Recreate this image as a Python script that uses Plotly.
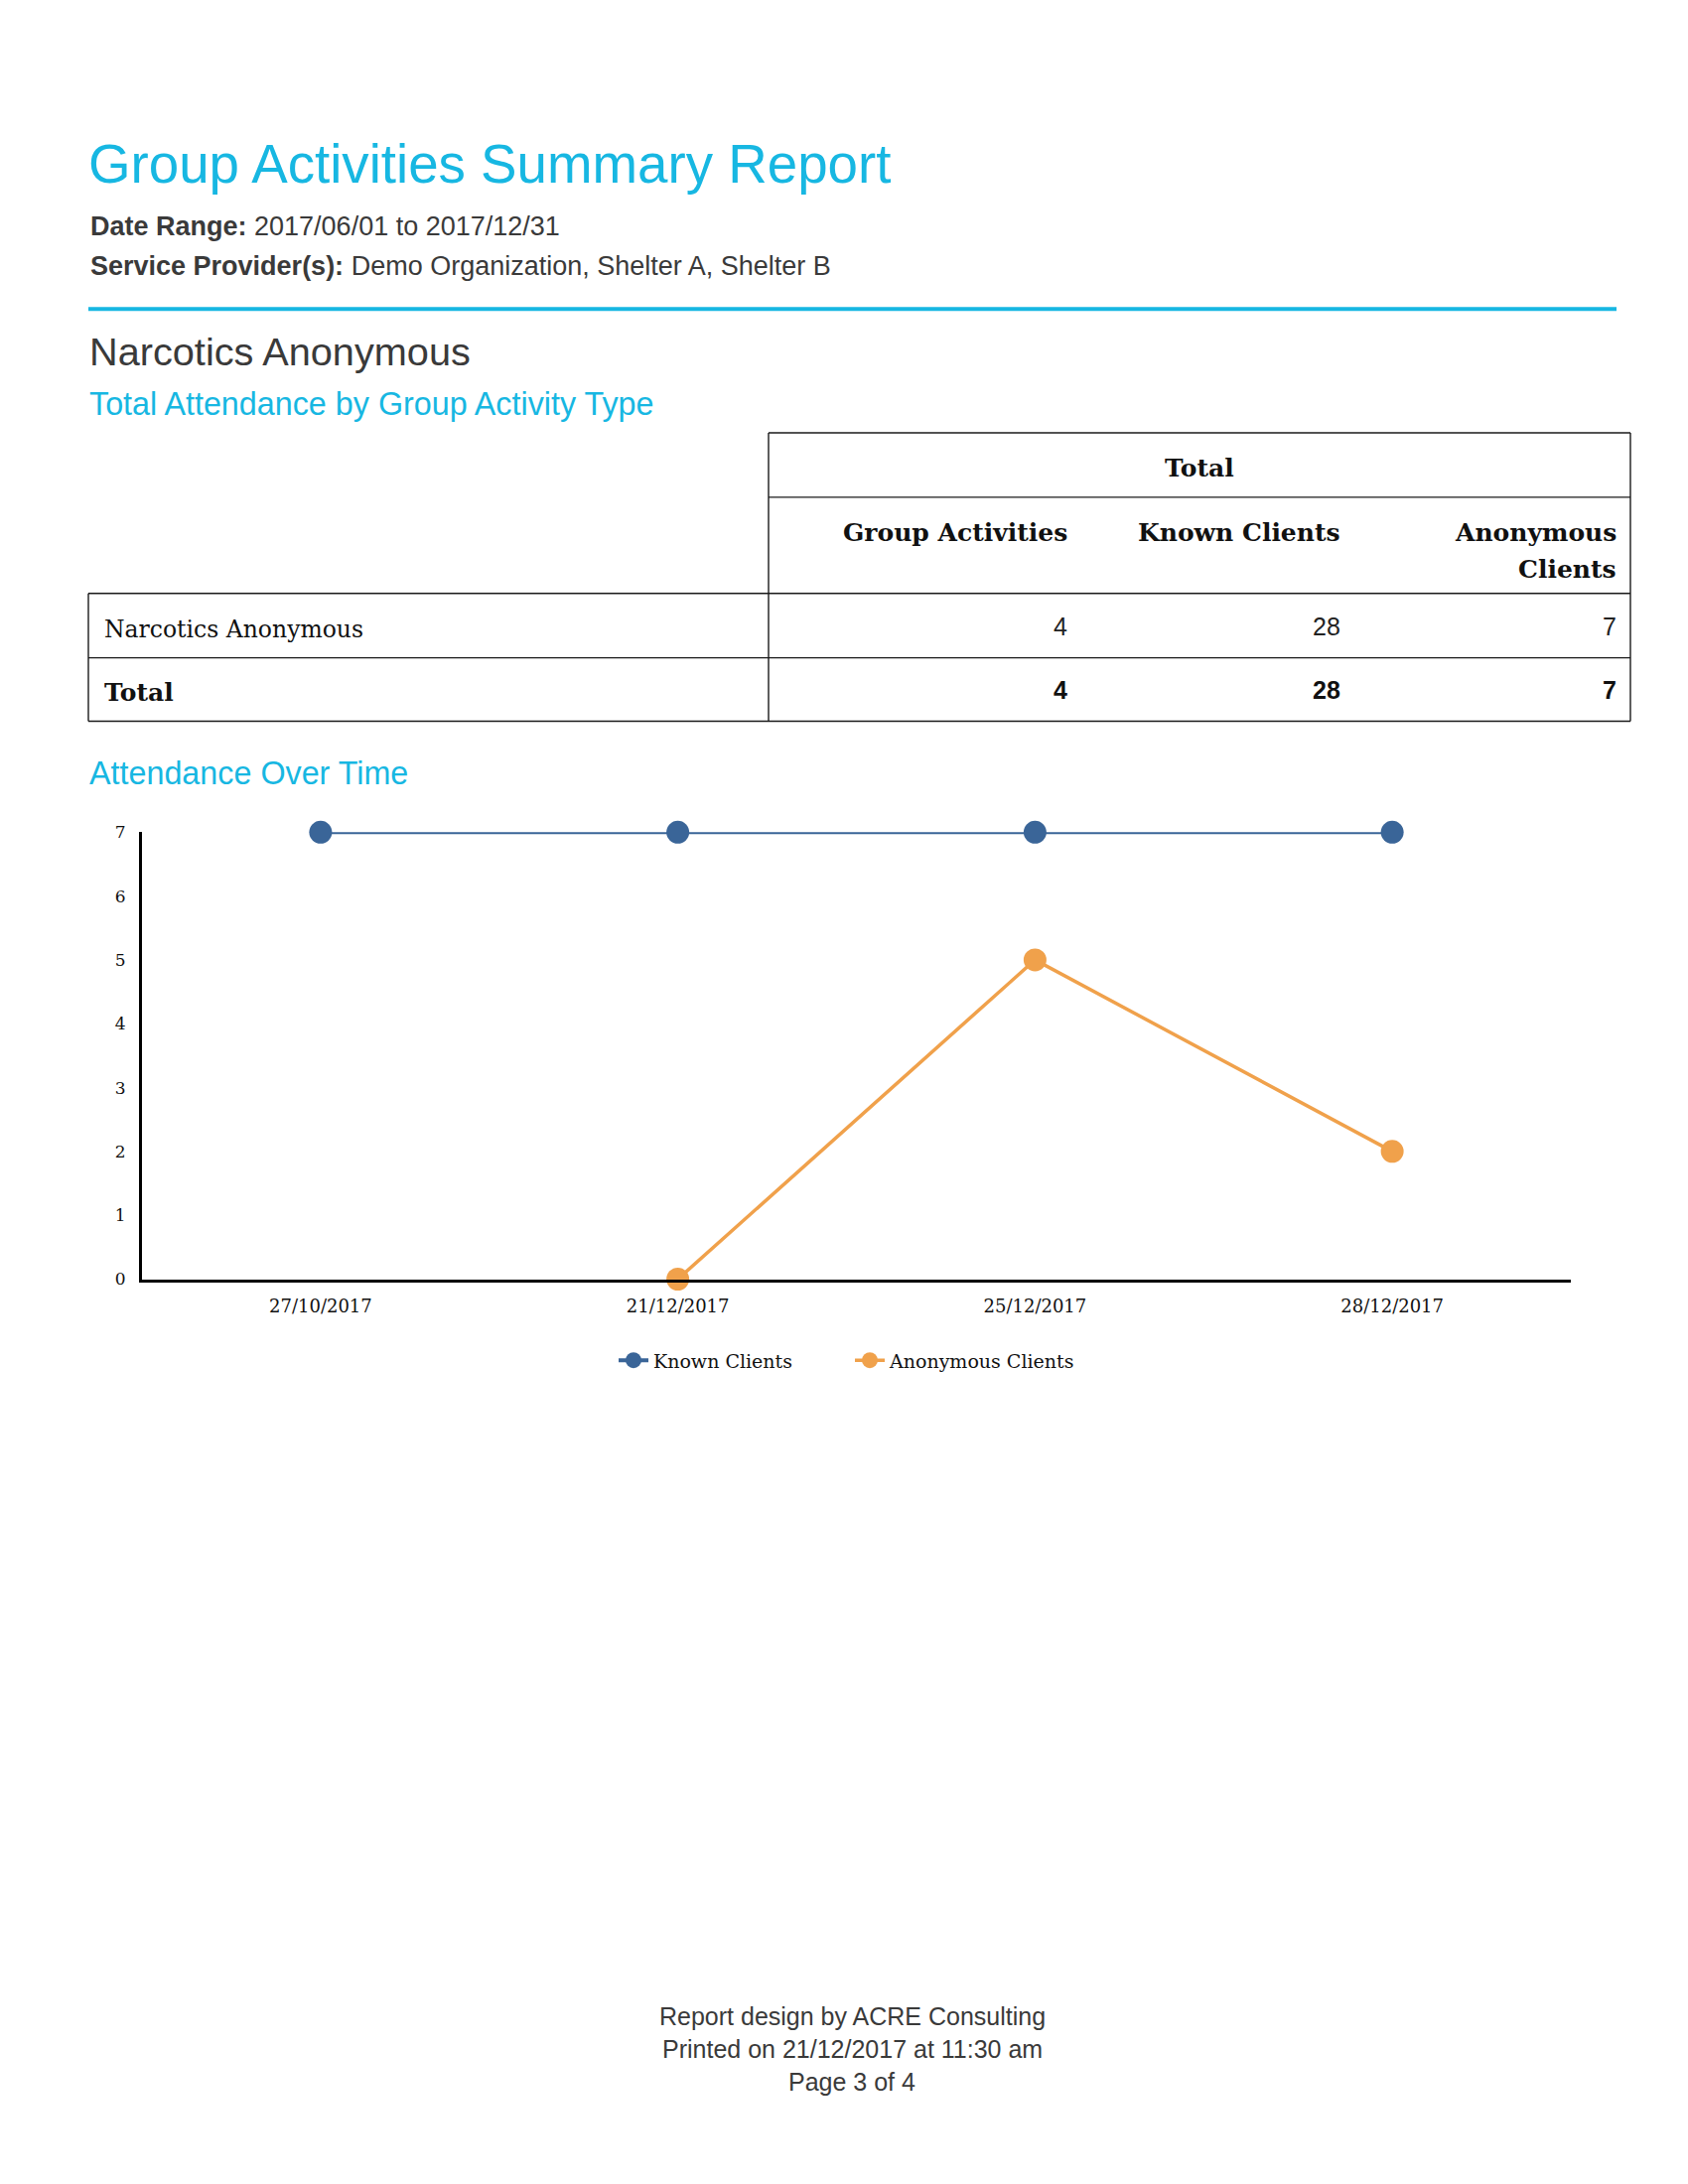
import plotly.graph_objects as go

# ---------------- data ----------------
report_title = "Group Activities Summary Report"
date_range = "2017/06/01 to 2017/12/31"
service_providers = "Demo Organization, Shelter A, Shelter B"
section_title = "Narcotics Anonymous"

activity_types = ["Narcotics Anonymous"]
group_activities = [4]
known_clients = [28]
anonymous_clients = [7]
table_headers = ["Group Activities", "Known Clients", "Anonymous\nClients"]

dates = ["27/10/2017", "21/12/2017", "25/12/2017", "28/12/2017"]
known_series = [7, 7, 7, 7]
anon_series = [None, 0, 5, 2]
y_ticks = [0, 1, 2, 3, 4, 5, 6, 7]

footer_lines = ["Report design by ACRE Consulting",
                "Printed on 21/12/2017 at 11:30 am",
                "Page 3 of 4"]

# ---------------- layout helpers ----------------
W, H, OFF = 1684, 2160, 8
def fx(X):
    return (X - OFF) / W
def fy(Y):
    Y = (Y - 8.3) / 0.9925
    return 1 - (Y - OFF) / H

CYAN = "#17b7e2"
DARK = "#3a3a3a"
BLUE = "#3a6598"
ORANGE = "#f0a14b"
SANS = "Liberation Sans, Arial, sans-serif"
SERIF = "DejaVu Serif, serif"

annotations = []
shapes = []

def text(X, Y, s, size, color=DARK, family=SANS, xanchor="left"):
    annotations.append(dict(x=fx(X), y=fy(Y), xref="paper", yref="paper",
                            text=s, showarrow=False, xanchor=xanchor, yanchor="middle",
                            font=dict(size=size, color=color, family=family)))

def hline(x0, x1, y, color="#1a1a1a", width=1.4):
    shapes.append(dict(type="line", xref="paper", yref="paper",
                       x0=fx(x0), x1=fx(x1), y0=fy(y), y1=fy(y),
                       line=dict(color=color, width=width)))

def vline(x, y0, y1, color="#1a1a1a", width=1.4):
    shapes.append(dict(type="line", xref="paper", yref="paper",
                       x0=fx(x), x1=fx(x), y0=fy(y0), y1=fy(y1),
                       line=dict(color=color, width=width)))

# header
text(87, 164, report_title, 54.7, CYAN)
text(89, 227, "<b>Date Range:</b> " + date_range, 27)
text(89, 267, "<b>Service Provider(s):</b> " + service_providers, 27)
hline(89, 1628, 310, CYAN, 4)
text(88, 353, section_title, 39.7, DARK)
text(88, 406, "Total Attendance by Group Activity Type", 32.3, CYAN)

# table
TL, TV, TR = 89, 774, 1642
hline(TV, TR, 435)
hline(TV, TR, 500)
hline(TL, TR, 597)
hline(TL, TR, 662)
hline(TL, TR, 726)
vline(TV, 435, 726)
vline(TR, 435, 726)
vline(TL, 597, 726)

col_right = [1077, 1352, 1630]
text((TV + TR) / 2, 471, "<b>Total</b>", 25, "#111", SERIF, "center")
for cr, h in zip(col_right, table_headers):
    for i, line in enumerate(h.split("\n")):
        text(cr, 536 + 37 * i, "<b>" + line + "</b>", 25, "#111", SERIF, "right")

row_y = 630
for name, g, k, a in zip(activity_types, group_activities, known_clients, anonymous_clients):
    text(103, row_y + 3, name, 23.5, "#111", SERIF)
    for cr, v in zip(col_right, [g, k, a]):
        text(cr, row_y, str(v), 25, "#222", SANS, "right")
    row_y += 65

totals = [sum(group_activities), sum(known_clients), sum(anonymous_clients)]
text(103, 697, "<b>Total</b>", 25, "#111", SERIF)
for cr, v in zip(col_right, totals):
    text(cr, 694, "<b>" + str(v) + "</b>", 25, "#111", SANS, "right")

# chart title
text(88, 779, "Attendance Over Time", 32.3, CYAN)

# footer
for i, line in enumerate(footer_lines):
    text(858, 2033 + 33 * i, line, 25, DARK, SANS, "center")

fig = go.Figure()
fig.add_trace(go.Scatter(x=dates, y=known_series, name="Known Clients", mode="lines+markers",
                         line=dict(color=BLUE, width=4), marker=dict(size=23, color=BLUE),
                         cliponaxis=False))
fig.add_trace(go.Scatter(x=dates, y=anon_series, name="Anonymous Clients", mode="lines+markers",
                         line=dict(color=ORANGE, width=3.5), marker=dict(size=23, color=ORANGE),
                         cliponaxis=False, connectgaps=False))

fig.update_layout(
    width=W, height=H,
    margin=dict(l=0, r=0, t=0, b=0),
    paper_bgcolor="white", plot_bgcolor="white",
    showlegend=True,
    legend=dict(orientation="h", x=fx(618), y=fy(1371), xanchor="left", yanchor="middle",
                font=dict(family=SERIF, size=19, color="#111"),
                entrywidth=193, entrywidthmode="pixels", bgcolor="rgba(0,0,0,0)"),
    xaxis=dict(domain=[fx(143), fx(1582)], type="category", range=[-0.5, 3.5],
               showline=True, linecolor="#000", linewidth=3, showgrid=False, zeroline=False,
               ticks="", ticklabelstandoff=9,
               tickfont=dict(family=SERIF, size=18, color="#111")),
    yaxis=dict(domain=[fy(1289), fy(838)], range=[0, 7], tickvals=y_ticks,
               showline=True, linecolor="#000", linewidth=3, showgrid=False, zeroline=False,
               ticks="", ticklabelstandoff=10,
               tickfont=dict(family=SERIF, size=17, color="#111")),
    annotations=annotations,
    shapes=shapes,
)

fig.write_html("out.html", config={"displayModeBar": False})
